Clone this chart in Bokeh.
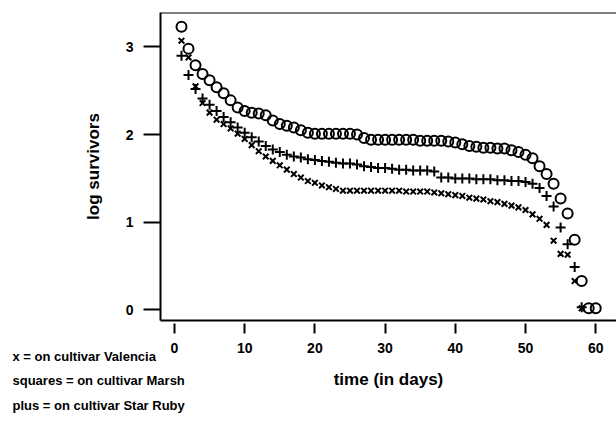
from bokeh.plotting import figure
from bokeh.models import Range1d, Span, Title
from bokeh.embed import file_html
from bokeh.resources import INLINE

# log survivors per day, one series per grapefruit / orange cultivar
days_marsh = list(range(1, 61))
log_marsh = [3.23, 2.98, 2.79, 2.69, 2.62, 2.54, 2.47, 2.39, 2.31, 2.27,
             2.25, 2.24, 2.22, 2.16, 2.12, 2.10, 2.08, 2.05, 2.02, 2.01,
             2.01, 2.01, 2.01, 2.01, 2.01, 2.00, 1.96, 1.94, 1.94, 1.94,
             1.94, 1.94, 1.94, 1.94, 1.93, 1.93, 1.93, 1.93, 1.92, 1.91,
             1.89, 1.87, 1.86, 1.85, 1.85, 1.84, 1.84, 1.82, 1.80, 1.77,
             1.73, 1.64, 1.55, 1.44, 1.27, 1.10, 0.80, 0.33, 0.02, 0.02]

days_star_ruby = list(range(1, 59))
log_star_ruby = [2.90, 2.68, 2.52, 2.41, 2.34, 2.27, 2.20, 2.14, 2.08, 2.02,
                 1.97, 1.92, 1.87, 1.83, 1.80, 1.77, 1.75, 1.74, 1.72, 1.71,
                 1.70, 1.69, 1.68, 1.67, 1.67, 1.66, 1.64, 1.63, 1.62, 1.62,
                 1.61, 1.60, 1.60, 1.59, 1.59, 1.59, 1.58, 1.51, 1.51, 1.50,
                 1.50, 1.50, 1.49, 1.49, 1.49, 1.48, 1.48, 1.47, 1.47, 1.46,
                 1.44, 1.39, 1.30, 1.18, 0.94, 0.75, 0.49, 0.03]

days_valencia = list(range(1, 59))
log_valencia = [3.07, 2.88, 2.55, 2.36, 2.25, 2.17, 2.12, 2.07, 2.01, 1.95,
                1.88, 1.81, 1.75, 1.70, 1.65, 1.60, 1.55, 1.51, 1.47, 1.45,
                1.42, 1.40, 1.38, 1.36, 1.36, 1.36, 1.36, 1.36, 1.36, 1.36,
                1.36, 1.36, 1.35, 1.35, 1.35, 1.35, 1.34, 1.33, 1.32, 1.31,
                1.30, 1.28, 1.27, 1.26, 1.24, 1.23, 1.21, 1.19, 1.17, 1.14,
                1.09, 1.04, 0.97, 0.79, 0.64, 0.63, 0.33, 0.02]

x_ticks = [0, 10, 20, 30, 40, 50, 60]
y_ticks = [0, 1, 2, 3]

key_lines = ["x = on cultivar Valencia",
             "squares = on cultivar Marsh",
             "plus = on cultivar Star Ruby"]

FONT = "Liberation Sans"
X_LO, X_HI = -1.99, 62.96
Y_LO, Y_HI = -0.12, 3.392

p = figure(width=616, height=421, output_backend="svg", toolbar_location=None,
           x_range=Range1d(X_LO, X_HI), y_range=Range1d(Y_LO, Y_HI),
           min_border_left=160, min_border_right=0,
           min_border_top=12, min_border_bottom=101)
p.grid.visible = False
p.outline_line_color = None
p.background_fill_color = "white"
p.border_fill_color = "white"

# frame: left and bottom come from the axis lines, top from a span
p.add_layout(Span(location=Y_HI, dimension="width", line_color="black", line_width=2))

xa = p.xaxis[0]
xa.ticker = x_ticks
xa.axis_line_width = 2
xa.major_tick_line_width = 2
xa.major_tick_in = -3
xa.major_tick_out = 13
xa.minor_tick_line_color = None
xa.major_label_standoff = 9
xa.major_label_text_font = FONT
xa.major_label_text_font_style = "bold"
xa.major_label_text_font_size = "14px"
xa.major_label_text_color = "black"
xa.axis_label = "time (in days)"
xa.axis_label_text_font = FONT
xa.axis_label_text_font_style = "bold"
xa.axis_label_text_font_size = "17px"
xa.axis_label_text_color = "black"
xa.axis_label_standoff = 14

ya = p.yaxis[0]
ya.ticker = y_ticks
ya.axis_line_width = 2
ya.major_tick_line_width = 2
ya.major_tick_in = 0
ya.major_tick_out = 17
ya.minor_tick_line_color = None
ya.major_label_standoff = 10
ya.major_label_text_font = FONT
ya.major_label_text_font_style = "bold"
ya.major_label_text_font_size = "14px"
ya.major_label_text_color = "black"
ya.axis_label = "log survivors"
ya.axis_label_text_font = FONT
ya.axis_label_text_font_style = "bold"
ya.axis_label_text_font_size = "17px"
ya.axis_label_text_color = "black"
ya.axis_label_standoff = 20

p.scatter(days_marsh, log_marsh, marker="circle", size=10, line_width=2,
          line_color="black", fill_color=None)
p.scatter(days_star_ruby, log_star_ruby, marker="cross", size=10, line_width=2,
          line_color="black")
p.scatter(days_valencia, log_valencia, marker="x", size=8, line_width=2,
          line_color="black")

# symbol key in the lower-left corner, pulled up beside the x-axis title
key = Title(text="\n".join(key_lines), align="left", vertical_align="top",
            offset=-148, standoff=-86,
            text_font=FONT, text_font_style="bold", text_font_size="13px",
            text_line_height=1.65, text_color="black")
p.add_layout(key, "below")

open("out.html", "w").write(file_html(p, INLINE))
